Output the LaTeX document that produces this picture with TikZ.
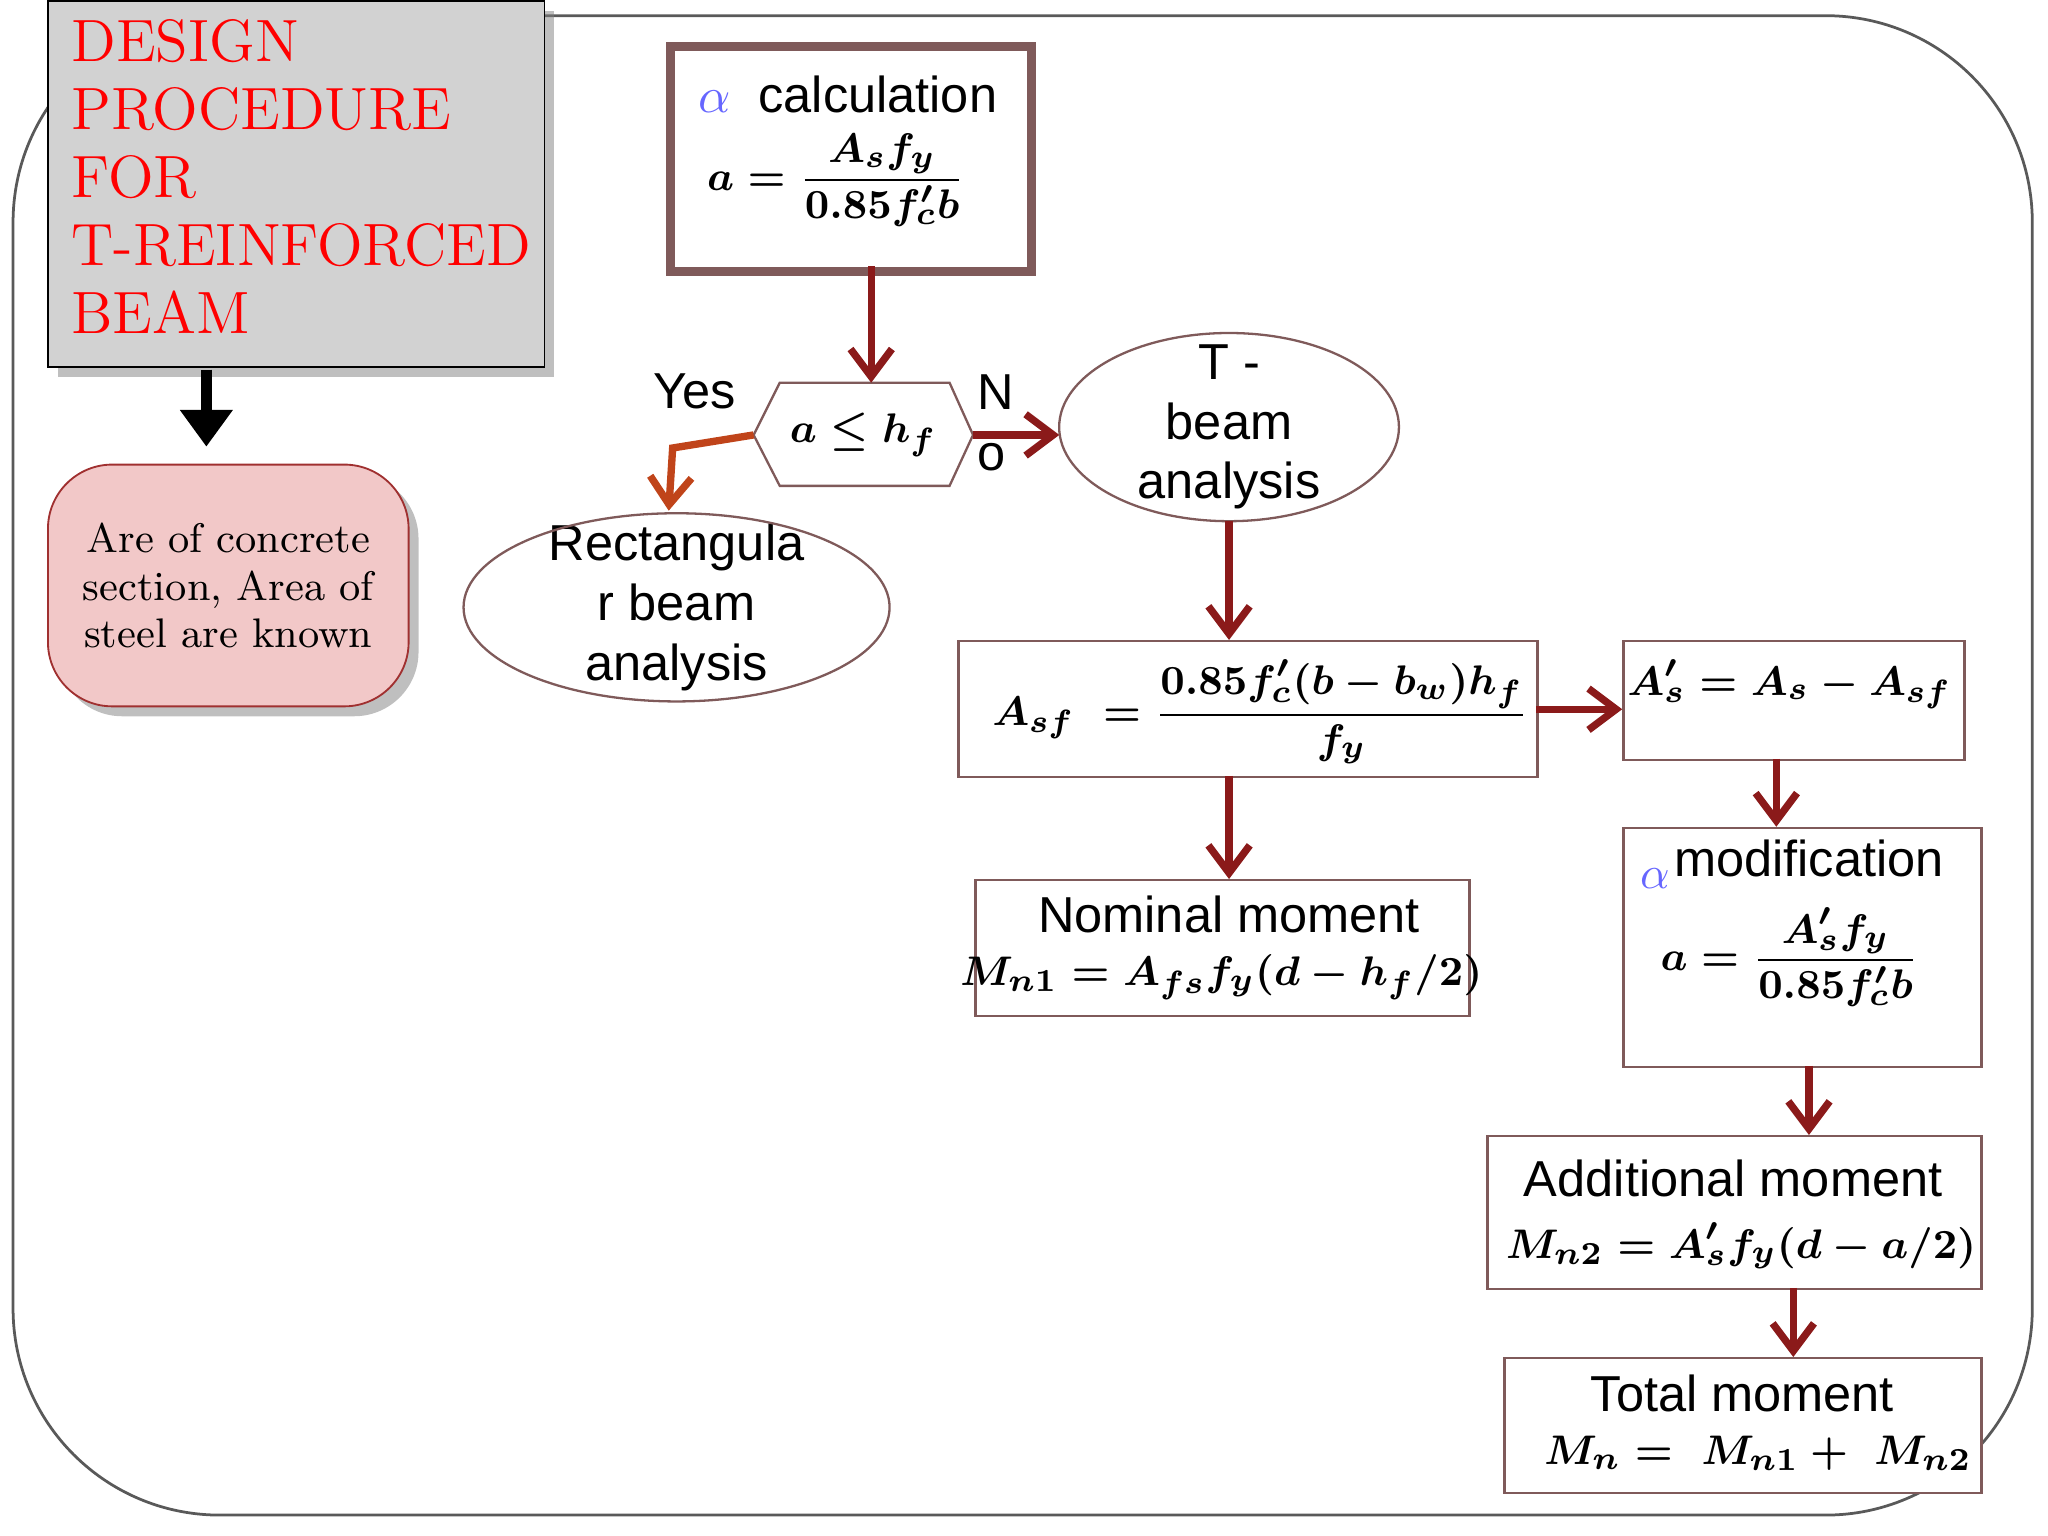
\documentclass[tikz,border=0pt]{standalone}
\usepackage{amsmath}
\usepackage{fontspec}
\setmainfont{Latin Modern Roman}
\newfontfamily\sansf{Liberation Sans}
\usetikzlibrary{shapes.geometric,arrows.meta,shadows}
\definecolor{arrred}{HTML}{8B1A1A}
\definecolor{boxbrown}{HTML}{7F5A5A}
\definecolor{pinkfill}{HTML}{F2C8C8}
\definecolor{pinkline}{HTML}{A03030}
\definecolor{orangeln}{HTML}{C0441A}
\newcommand{\pr}{^{\prime}}
\begin{document}
\begin{tikzpicture}[x=0.01cm,y=-0.01cm,
  lbl/.style={font=\sansf\fontsize{11}{13}\selectfont,align=center},
  fm/.style={font=\fontsize{9.5}{11}\selectfont\boldmath},
  box/.style={draw=boxbrown,line width=0.5pt,fill=white,inner sep=0pt},
  ell/.style={draw=boxbrown,line width=0.5pt},
  arr/.style={-{Straight Barb[length=6pt,width=9pt]},arrred,line width=1.6pt}]
\useasboundingbox (0,0) rectangle (1568,1176);
\draw[gray!70!black,line width=0.6pt,rounded corners=45pt] (10,12) rectangle (1556,1160);

% title
\node[draw=black,fill=gray!35,drop shadow,minimum width=3.8cm,minimum height=2.8cm,anchor=north west,inner sep=0pt] (title) at (36,0) {};
\node[anchor=north west,align=left,text=red,font=\fontsize{13}{14.8}\selectfont,inner sep=0pt] (ttxt) at (54,14)
  {DESIGN\\PROCEDURE\\FOR\\T-REINFORCED\\BEAM};
\node[minimum width=2.76cm,minimum height=1.85cm,anchor=north west,rounded corners=14pt,fill=pinkfill,draw=pinkline,drop shadow,
  font=\fontsize{9}{10.3}\selectfont,align=center] (known) at (36,355) {Are of concrete\\section, Area of\\steel are known};
\draw[-{Triangle[length=8pt,width=11pt]},line width=2.5pt,black] (158,283) -- (158,342);

% alpha calc
\node[box,line width=2pt,minimum width=2.76cm,minimum height=1.72cm,anchor=north west] (cbox) at (510,32) {};
\node[lbl,anchor=west] (cboxt) at (522,72) {\textcolor{blue!60}{$\alpha$}\ \ calculation};
\node[fm] (cboxf) at (640,138) {$\displaystyle a=\frac{A_sf_y}{0.85f_c\pr b}$};

% decision
\coordinate (hw) at (577,333);
\coordinate (he) at (745,333);
\draw[boxbrown,line width=0.5pt] (hw) -- (597,293) -- (727,293) -- (he) -- (727,372) -- (597,372) -- cycle;
\node[fm] (hex) at (661,333) {$a\le h_f$};
\draw[arr] (667,204) -- (667,293);
\node[lbl] (yes) at (532,300) {Yes};
\node[lbl] (n1) at (762,300) {N};
\node[lbl] (n2) at (759,350) {o};

\node[lbl] (rect) at (518,465) {Rectangula\\r beam\\analysis};
\draw[ell] (rect.center) ellipse [x radius=1.63cm,y radius=0.72cm];
\node[lbl] (tb) at (941,327) {T -\\beam\\analysis};
\draw[ell] (tb.center) ellipse [x radius=1.3cm,y radius=0.72cm];
\coordinate (rtop) at (512,391);
\coordinate (tbw) at (811,333);
\coordinate (tbs) at (941,399);
\draw[-{Straight Barb[length=6pt,width=9pt]},orangeln,line width=1.6pt] (hw) -- (515,343) -- (rtop);
\draw[arr] (he) -- (tbw);

\node[box,minimum width=4.43cm,minimum height=1.04cm,anchor=north west] (asf) at (733,490) {};
\node[fm] (asff) at (965,545) {$\displaystyle A_{sf}\ =\frac{0.85f_c\pr(b-b_w)h_f}{f_y}$};
\draw[arr] (tbs) -- (tbs|-asf.north);

\node[box,minimum width=2.61cm,minimum height=0.91cm,anchor=north west] (asp) at (1242,490) {};
\node[fm] (aspf) at (1370,524) {$A_s\pr=A_s-A_{sf}$};
\draw[arr] (1176,543) -- (1242,543);

\node[box,minimum width=2.74cm,minimum height=1.83cm,anchor=north west] (mod) at (1242,633) {};
\node[lbl] (modt) at (1385,657) {modification};
\node[text=blue!60] (moda) at (1267,673) {$\alpha$};
\node[fm] (modf) at (1370,733) {$\displaystyle a=\frac{A_s\pr f_y}{0.85f_c\pr b}$};
\draw[arr] (1360,581) -- (1360,633);

\node[box,minimum width=3.78cm,minimum height=1.04cm,anchor=north west] (nom) at (746,673) {};
\node[lbl] (nomt) at (941,700) {Nominal moment};
\node[fm] (nomf) at (935,748) {$M_{n1}=A_{fs}f_y(d-h_f/2)$};
\draw[arr] (941,594) -- (941,673);

\node[box,minimum width=3.78cm,minimum height=1.17cm,anchor=north west] (add) at (1138,869) {};
\node[lbl] (addt) at (1327,902) {Additional moment};
\node[fm] (addf) at (1333,954) {$M_{n2}=A_s\pr f_y(d-a/2)$};
\draw[arr] (1385,816) -- (1385,869);

\node[box,minimum width=3.65cm,minimum height=1.03cm,anchor=north west] (tot) at (1151,1039) {};
\node[lbl] (tott) at (1334,1067) {Total moment};
\node[fm] (totf) at (1346,1113) {$M_n=\ M_{n1}+\ M_{n2}$};
\draw[arr] (1373,986) -- (1373,1039);
\end{tikzpicture}
\end{document}
